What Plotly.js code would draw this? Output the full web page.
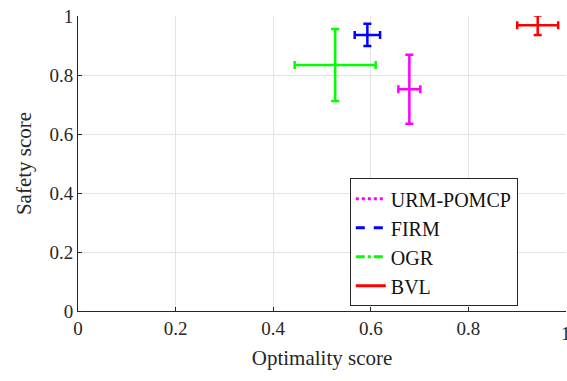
<!DOCTYPE html>
<html><head><meta charset="utf-8">
<script src="https://cdn.plot.ly/plotly-3.0.1.min.js"></script>
<style>html,body{margin:0;padding:0;background:#fff}#c{width:567px;height:381px}
#d{position:absolute;left:-2000px;top:0;width:500px;font-size:10px;font-family:monospace;white-space:pre-wrap;color:#fff}</style>
</head><body><div id="c"></div><div id="d"></div>
<script>
const methods = ["URM-POMCP", "FIRM", "OGR", "BVL"];
const colors = ["#ff00ff", "#0000ff", "#00ff00", "#ff0000"];
const dashes = ["dot", "dash", "dashdot", "solid"];
const optimality = [0.679, 0.593, 0.527, 0.942];
const optimalityErr = [0.0225, 0.026, 0.083, 0.042];
const safety = [0.752, 0.936, 0.834, 0.969];
const safetyErr = [0.117, 0.038, 0.122, 0.033];
const tickVals = [0, 0.2, 0.4, 0.6, 0.8, 1];
const tickText = ["0", "0.2", "0.4", "0.6", "0.8", "1"];

const font = "Liberation Serif";
const traces = methods.map((m, i) => ({
  type: "scatter", mode: "lines", name: m,
  x: [optimality[i]], y: [safety[i]],
  line: {color: colors[i], width: 3, dash: dashes[i]},
  error_x: {type: "data", array: [optimalityErr[i]], visible: true, color: colors[i], thickness: 2.5, width: 4},
  error_y: {type: "data", array: [safetyErr[i]], visible: true, color: colors[i], thickness: 2.5, width: 4},
  cliponaxis: false, hoverinfo: "skip"
}));

const axisCommon = {
  range: [0, 1], tickvals: tickVals, ticktext: tickText,
  showgrid: true, gridcolor: "#e3e3e3", gridwidth: 1, zeroline: false,
  showline: true, linecolor: "#262626", linewidth: 1,
  ticks: "inside", ticklen: 4, tickcolor: "#262626",
  tickfont: {family: font, size: 19, color: "#262626"}
};

const layout = {
  width: 567, height: 381,
  margin: {l: 77.5, r: 1.3, t: 16, b: 70},
  paper_bgcolor: "#fff", plot_bgcolor: "#fff",
  font: {family: font},
  showlegend: true,
  xaxis: Object.assign({}, axisCommon, {title: {text: "Optimality score", font: {family: font, size: 21, color: "#262626"}, standoff: 12}}),
  yaxis: Object.assign({}, axisCommon, {title: {text: "Safety score", font: {family: font, size: 21, color: "#262626"}, standoff: 12}}),
  legend: {
    x: 0.557, y: 0.45, xanchor: "left", yanchor: "top",
    bgcolor: "#fff", bordercolor: "#262626", borderwidth: 1,
    font: {family: font, size: 20, color: "#111"}, tracegroupgap: 0
  },
  annotations: [{
    x: tickVals[5], y: 0, xref: "x", yref: "paper", yshift: -10,
    xanchor: "center", yanchor: "top", showarrow: false,
    text: tickText[5], font: {family: font, size: 19, color: "#262626"}
  }]
};

function touch() {
  const out = [];
  document.querySelectorAll('#c text').forEach(t => out.push(getComputedStyle(t).fontFamily + ' ' + t.textContent));
  document.getElementById('d').textContent = out.join('\n');
}
Plotly.newPlot("c", traces, layout, {staticPlot: true})
  .then(() => { touch(); return Plotly.newPlot("c", traces, layout, {staticPlot: true}); })
  .then(touch);
</script></body></html>
